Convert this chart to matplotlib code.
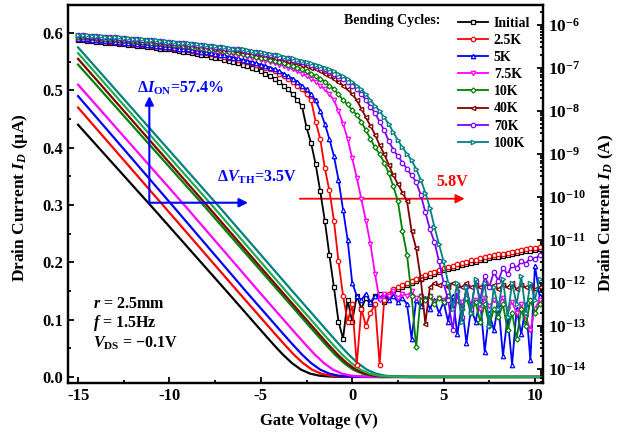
import numpy as np
import matplotlib
matplotlib.use('Agg')
import matplotlib.pyplot as plt
from matplotlib.ticker import MultipleLocator, LogLocator, NullFormatter

plt.rcParams['font.family'] = 'Liberation Serif'
plt.rcParams['font.weight'] = 'bold'
plt.rcParams['axes.labelweight'] = 'bold'
plt.rcParams['mathtext.fontset'] = 'custom'
plt.rcParams['mathtext.rm'] = 'Liberation Serif:bold'
plt.rcParams['mathtext.it'] = 'Liberation Serif:italic:bold'
plt.rcParams['mathtext.bf'] = 'Liberation Serif:bold'
plt.rcParams['axes.unicode_minus'] = False

labels = ['Initial', '2.5K', '5K', '7.5K', '10K', '40K', '70K', '100K']
colors = ['#000000', '#FF0000', '#0000FF', '#FF00FF', '#008000', '#800000', '#8000FF', '#008080']
lin_colors = ['#000000', '#FF0000', '#0000FF', '#FF00FF', '#008000', '#800000', '#1FAF4A', '#008080']
markers = ['s', 'o', '^', 'v', 'D', '<', 'o', '>']

# ---- linear transfer curves (left axis, uA) ----
lin_y_tail = [0.147, 0.0743, 0.0564, 0.0393, 0.0243, 0.0128, 0.0058, 0.0023, 0.0009, 0.0003, 0.0, 0.0]
lin_x = [
    [-15, -10.8, -6.8, -4.8, -4.3, -3.8, -3.3, -2.8, -2.3, -1.8, -1.3, -0.8, 0.2, 10.5],
    [-15, -10.2, -6.2, -4.2, -3.7, -3.2, -2.7, -2.2, -1.7, -1.2, -0.7, -0.2, 0.8, 10.5],
    [-15, -9.75, -5.75, -3.75, -3.25, -2.75, -2.25, -1.75, -1.25, -0.75, -0.25, 0.25, 1.25, 10.5],
    [-15, -9.05, -5.05, -3.05, -2.55, -2.05, -1.55, -1.05, -0.55, -0.05, 0.45, 0.95, 1.95, 10.5],
    [-15, -7.95, -3.95, -1.95, -1.45, -0.95, -0.45, 0.05, 0.55, 1.05, 1.55, 2.05, 3.05, 10.5],
    [-15, -7.8, -3.8, -1.8, -1.3, -0.8, -0.3, 0.2, 0.7, 1.2, 1.7, 2.2, 3.2, 10.5],
    [-15, -7.55, -3.55, -1.55, -1.05, -0.55, -0.05, 0.45, 0.95, 1.45, 1.95, 2.45, 3.45, 10.5],
    [-15, -7.2, -3.2, -1.2, -0.7, -0.2, 0.3, 0.8, 1.3, 1.8, 2.3, 2.8, 3.8, 10.5],
]
lin_start = [0.44, 0.47, 0.49, 0.51, 0.545, 0.555, 0.565, 0.575]
lin_mid = [0.291, 0.294, 0.296, 0.295, 0.293, 0.294, 0.295, 0.294]

# ---- log transfer curves (right axis, log10 A), Vg = -15 ... 10.25 step 0.25 ----
vg_log = np.arange(-15, 10.26, 0.25)

log_initial = [
    -6.35, -6.36, -6.37, -6.38,
    -6.39, -6.40, -6.41, -6.42, -6.43, -6.44, -6.45, -6.46, -6.47, -6.48,
    -6.49, -6.51, -6.52, -6.53, -6.55, -6.56, -6.57, -6.59, -6.61, -6.62,
    -6.64, -6.66, -6.67, -6.69, -6.71, -6.74, -6.76, -6.78, -6.81, -6.83,
    -6.86, -6.89, -6.92, -6.95, -6.99, -7.03, -7.08, -7.13, -7.19, -7.25,
    -7.32, -7.41, -7.50, -7.61, -7.75, -7.89,
    -8.38, -8.75, -9.24, -9.87, -10.55, -11.35, -12.1,
    -12.9, -13.3, -12.4, -12.9, -12.3, -12.6, -12.35, -12.5, -12.3, -12.25,
    -12.45, -12.3, -12.2, -12.15, -12.1, -12.05, -12.0, -11.95, -11.92, -11.87,
    -11.83, -11.79, -11.75, -11.71, -11.68, -11.65, -11.62, -11.59, -11.56, -11.53,
    -11.51, -11.48, -11.46, -11.43, -11.41, -11.39, -11.37, -11.35, -11.33, -11.31,
    -11.29, -11.27, -11.25, -11.23, -11.22,
]
log_2p5k = [
    -6.32, -6.33, -6.34, -6.35, -6.36, -6.37, -6.38,
    -6.39, -6.40, -6.41, -6.42, -6.43, -6.44, -6.45, -6.46, -6.47, -6.48,
    -6.49, -6.51, -6.52, -6.53, -6.55, -6.56, -6.57, -6.59, -6.61, -6.62,
    -6.64, -6.66, -6.67, -6.69, -6.71, -6.74, -6.76, -6.78, -6.81, -6.83,
    -6.86, -6.89, -6.92, -6.95, -6.99, -7.03, -7.08, -7.13, -7.19, -7.25,
    -7.32, -7.41, -7.50, -7.61, -7.75,
    -8.25, -8.65, -9.33, -9.85, -10.55, -11.5, -12.3,
    -12.9, -12.5, -13.9, -12.6, -13.0, -12.7, -12.5, -13.9, -12.4, -12.25,
    -12.15, -12.1, -12.05, -12.0, -11.95, -11.9, -11.87, -11.82, -11.78, -11.74,
    -11.7, -11.66, -11.63, -11.6, -11.57, -11.54, -11.51, -11.48, -11.46, -11.43,
    -11.41, -11.38, -11.36, -11.34, -11.32, -11.3, -11.28, -11.26, -11.24, -11.22,
    -11.2, -11.18, -11.17,
]
log_5k = [
    -6.32, -6.32, -6.33, -6.34, -6.35, -6.36, -6.37, -6.38,
    -6.39, -6.40, -6.41, -6.42, -6.43, -6.44, -6.45, -6.46, -6.47, -6.48,
    -6.49, -6.51, -6.52, -6.53, -6.55, -6.56, -6.57, -6.59, -6.61, -6.62,
    -6.64, -6.66, -6.67, -6.69, -6.71, -6.74, -6.76, -6.78, -6.81, -6.83,
    -6.86, -6.89, -6.92, -6.95, -6.99, -7.03, -7.08, -7.13, -7.19, -7.25,
    -7.32, -7.41, -7.50, -7.61, -7.75,
    -8.0, -8.3, -8.65, -9.05, -9.6, -10.3, -11.0, -12.0,
    -12.3, -12.4, -12.25, -12.45, -12.3, -12.35, -12.25, -12.4, -12.3, -12.45,
    -12.35, -12.5, -13.3, -12.4, -12.55, -12.35, -12.6, -12.4, -12.7, -12.45,
    -12.9, -12.3, -13.2, -12.5, -13.4, -12.6, -12.9, -12.4, -13.6, -12.7,
    -13.1, -12.5, -13.7, -12.8, -13.9, -12.6, -13.2, -12.5, -13.8, -11.6,
    -12.3,
]
log_7p5k = [
    -6.28, -6.29,
    -6.30, -6.31, -6.32, -6.32, -6.33, -6.34, -6.35, -6.36, -6.37, -6.38,
    -6.39, -6.40, -6.41, -6.42, -6.43, -6.44, -6.45, -6.46, -6.47, -6.48,
    -6.49, -6.51, -6.52, -6.53, -6.55, -6.56, -6.57, -6.59, -6.61, -6.62,
    -6.64, -6.66, -6.67, -6.69, -6.71, -6.74, -6.76, -6.78, -6.81, -6.83,
    -6.86, -6.89, -6.92, -6.95, -6.99, -7.03, -7.08, -7.13, -7.19, -7.25,
    -7.32, -7.41, -7.50, -7.61, -7.75,
    -8.0, -8.3, -8.65, -9.1, -9.55, -10.05, -10.55, -11.1, -11.8, -12.4,
    -12.25, -12.3, -12.2, -12.35, -12.25, -12.3, -12.2, -12.35, -12.3, -12.4,
    -12.3, -12.45, -12.35, -12.4, -12.3, -12.5, -12.35, -12.45, -12.3, -12.5,
    -12.4, -12.6, -12.35, -12.55, -12.4, -12.5, -12.35, -12.6, -12.45, -12.7,
    -12.5, -12.8, -13.1, -12.6, -12.4,
]
log_10k = [
    -6.27, -6.28, -6.28, -6.29,
    -6.30, -6.31, -6.32, -6.32, -6.33, -6.34, -6.35, -6.36, -6.37, -6.38,
    -6.39, -6.40, -6.41, -6.42, -6.43, -6.44, -6.45, -6.46, -6.47, -6.48,
    -6.49, -6.51, -6.52, -6.53, -6.55, -6.56, -6.57, -6.59, -6.61, -6.62,
    -6.64, -6.66, -6.67, -6.69, -6.71, -6.74, -6.76, -6.78, -6.81, -6.83,
    -6.86, -6.89, -6.92, -6.95, -6.99, -7.03, -7.08, -7.13, -7.19, -7.25,
    -7.32, -7.41, -7.50, -7.61, -7.75,
    -7.85, -7.98, -8.1, -8.25, -8.45, -8.65, -8.85, -9.0, -9.2, -9.45,
    -9.75, -10.1, -10.8, -11.35, -12.3, -13.5,
    -12.3, -12.4, -12.3, -12.5, -12.35, -12.45, -12.3, -12.5, -12.4, -12.6,
    -12.35, -12.7, -12.45, -12.9, -12.5, -13.0, -12.6, -12.8, -12.5, -13.1,
    -12.7, -13.3, -12.6, -13.0, -12.4, -12.7, -12.5,
]
log_40k = [
    -6.25, -6.26, -6.26, -6.27, -6.28, -6.28, -6.29,
    -6.30, -6.31, -6.32, -6.32, -6.33, -6.34, -6.35, -6.36, -6.37, -6.38,
    -6.39, -6.40, -6.41, -6.42, -6.43, -6.44, -6.45, -6.46, -6.47, -6.48,
    -6.49, -6.51, -6.52, -6.53, -6.55, -6.56, -6.57, -6.59, -6.61, -6.62,
    -6.64, -6.66, -6.67, -6.69, -6.71, -6.74, -6.76, -6.78, -6.81, -6.83,
    -6.86, -6.89, -6.92, -6.95, -6.99, -7.03, -7.08, -7.13, -7.19, -7.25,
    -7.32, -7.41, -7.50, -7.61, -7.75,
    -7.95, -8.15, -8.35, -8.55, -8.8, -9.0, -9.25, -9.5, -9.7, -9.9,
    -10.1, -10.8, -11.2, -11.9, -12.95,
    -12.1, -12.0, -12.05, -12.0, -12.1, -12.0, -12.05, -12.1, -12.0, -12.1,
    -12.05, -12.1, -12.0, -12.1, -12.05, -12.15, -12.05, -12.1, -12.0, -12.15,
    -12.05, -12.1, -12.05, -12.15, -12.1,
]
log_70k = [
    -6.24, -6.24, -6.25, -6.26, -6.26, -6.27, -6.28, -6.28, -6.29,
    -6.30, -6.31, -6.32, -6.32, -6.33, -6.34, -6.35, -6.36, -6.37, -6.38,
    -6.39, -6.40, -6.41, -6.42, -6.43, -6.44, -6.45, -6.46, -6.47, -6.48,
    -6.49, -6.51, -6.52, -6.53, -6.55, -6.56, -6.57, -6.59, -6.61, -6.62,
    -6.64, -6.66, -6.67, -6.69, -6.71, -6.74, -6.76, -6.78, -6.81, -6.83,
    -6.86, -6.89, -6.92, -6.95, -6.99, -7.03, -7.08, -7.13, -7.19, -7.25,
    -7.32, -7.41, -7.50, -7.61, -7.75,
    -7.9, -8.05, -8.25, -8.45, -8.7, -8.9, -9.05, -9.2, -9.35, -9.5,
    -9.65, -9.95, -10.35, -10.75, -11.05, -11.5, -12.0,
    -12.4, -13.1, -12.2, -12.8, -12.1, -12.6, -11.95, -12.4, -11.85, -12.1,
    -11.75, -11.95, -11.65, -11.8, -11.58, -11.65, -11.5, -11.55, -11.42, -11.45,
    -11.35,
]
log_100k = [
    -6.23, -6.24, -6.24, -6.25, -6.26, -6.26, -6.27, -6.28, -6.28, -6.29,
    -6.30, -6.31, -6.32, -6.32, -6.33, -6.34, -6.35, -6.36, -6.37, -6.38,
    -6.39, -6.40, -6.41, -6.42, -6.43, -6.44, -6.45, -6.46, -6.47, -6.48,
    -6.49, -6.51, -6.52, -6.53, -6.55, -6.56, -6.57, -6.59, -6.61, -6.62,
    -6.64, -6.66, -6.67, -6.69, -6.71, -6.74, -6.76, -6.78, -6.81, -6.83,
    -6.86, -6.89, -6.92, -6.95, -6.99, -7.03, -7.08, -7.13, -7.19, -7.25,
    -7.32, -7.41, -7.50, -7.61, -7.75,
    -7.88, -8.0, -8.15, -8.3, -8.5, -8.68, -8.85, -9.0, -9.15, -9.35,
    -9.6, -9.9, -10.25, -10.7, -11.1, -11.5, -12.0,
    -12.6, -12.0, -12.9, -12.1, -12.7, -11.9, -12.5, -12.0, -13.0, -12.1,
    -12.6, -11.9, -12.8, -12.0, -12.5, -11.85, -12.7, -12.0, -12.4, -11.9,
]
log_curves = [log_initial, log_2p5k, log_5k, log_7p5k, log_10k, log_40k, log_70k, log_100k]

fig = plt.figure(figsize=(6.2, 4.33), dpi=100)
ax = fig.add_axes([0.1097, 0.1155, 0.7661, 0.873])
ax2 = ax.twinx()

order = [0, 1, 2, 3, 4, 5, 7, 6]
for i in order:
    ys = [lin_start[i], lin_mid[i]] + lin_y_tail
    ax.plot(lin_x[i], ys, color=lin_colors[i], lw=1.6, zorder=2)

for i, vals in enumerate(log_curves):
    ax2.plot(vg_log, 10.0 ** np.array(vals), color=colors[i], lw=1.3,
             marker=markers[i], ms=3.2 if markers[i] != 'D' else 2.6,
             mfc='white', mec=colors[i], mew=0.9, label=labels[i])

ax.set_xlim(-15.55, 10.44)
ax.set_ylim(-0.0105, 0.649)
ax2.set_ylim(10 ** -14.33, 10 ** -5.535)
ax2.set_yscale('log')

ax.xaxis.set_major_locator(MultipleLocator(5))
ax.xaxis.set_minor_locator(MultipleLocator(2.5))
ax.yaxis.set_major_locator(MultipleLocator(0.1))
ax.yaxis.set_minor_locator(MultipleLocator(0.05))
ax.yaxis.set_major_formatter(plt.FormatStrFormatter('%.1f'))
ax2.yaxis.set_major_locator(LogLocator(base=10, numticks=20))
ax2.yaxis.set_minor_locator(LogLocator(base=10, subs=np.arange(2, 10), numticks=20))
ax2.yaxis.set_minor_formatter(NullFormatter())

for a in (ax, ax2):
    for s in a.spines.values():
        s.set_linewidth(1.6)
ax.tick_params(axis='both', which='both', direction='in', top=False, right=False, labelsize=12, width=1.3)
ax.tick_params(which='major', length=4)
ax.tick_params(which='minor', length=2.5)
ax2.tick_params(axis='y', which='both', direction='in', labelsize=12.5, width=1.3)
ax2.tick_params(which='major', length=4)
ax2.tick_params(which='minor', length=2.5)

ax.set_xlabel('Gate Voltage (V)', fontsize=12, fontweight='bold')
ax.set_ylabel('Drain Current $I_D$ (\u00b5A)', fontsize=12.5, fontweight='bold')
ax2.set_ylabel('Drain Current $I_D$ (A)', fontsize=12.5, fontweight='bold', rotation=90)
ax.xaxis.set_label_coords(0.528, -0.079)
ax.yaxis.set_label_coords(-0.08, 0.49)
ax2.yaxis.set_label_coords(1.114, 0.45)

# annotations
ax.annotate('', xy=(-11.1, 0.49), xytext=(-11.1, 0.304),
            arrowprops=dict(arrowstyle='-|>', color='blue', lw=1.5, mutation_scale=13, shrinkA=0, shrinkB=0))
ax.annotate('', xy=(-5.7, 0.304), xytext=(-11.1, 0.304),
            arrowprops=dict(arrowstyle='-|>', color='blue', lw=1.5, mutation_scale=13, shrinkA=0, shrinkB=0))
ax.text(-11.8, 0.503, '\u0394$I_{\\mathrm{ON}}$=57.4%', color='blue', fontsize=11.5, va='center')
ax.text(-7.4, 0.349, '\u0394$V_{\\mathrm{TH}}$=3.5V', color='blue', fontsize=11.5, va='center')
ax.annotate('', xy=(6.15, 0.311), xytext=(-2.87, 0.311),
            arrowprops=dict(arrowstyle='-|>', color='red', lw=1.3, mutation_scale=13, shrinkA=0, shrinkB=0))
ax.text(4.6, 0.34, '5.8V', color='red', fontsize=11.5, va='center')

ax.text(-14.2, 0.127, '$r$ = 2.5mm', fontsize=11.5, va='center')
ax.text(-14.2, 0.094, '$f$ = 1.5Hz', fontsize=11.5, va='center')
ax.text(-14.2, 0.059, '$V_{\\mathrm{DS}}$ = \u22120.1V', fontsize=11.5, va='center')

leg = ax2.legend(loc='upper left', bbox_to_anchor=(0.80, 0.995), frameon=False, fontsize=10,
                 handlelength=2.2, handletextpad=0.4, labelspacing=0.3, borderpad=0.2)
ax2.text(0.783, 0.96, 'Bending Cycles:', transform=ax2.transAxes, fontsize=10, va='center', ha='right')

fig.savefig('out.png', dpi=100)
